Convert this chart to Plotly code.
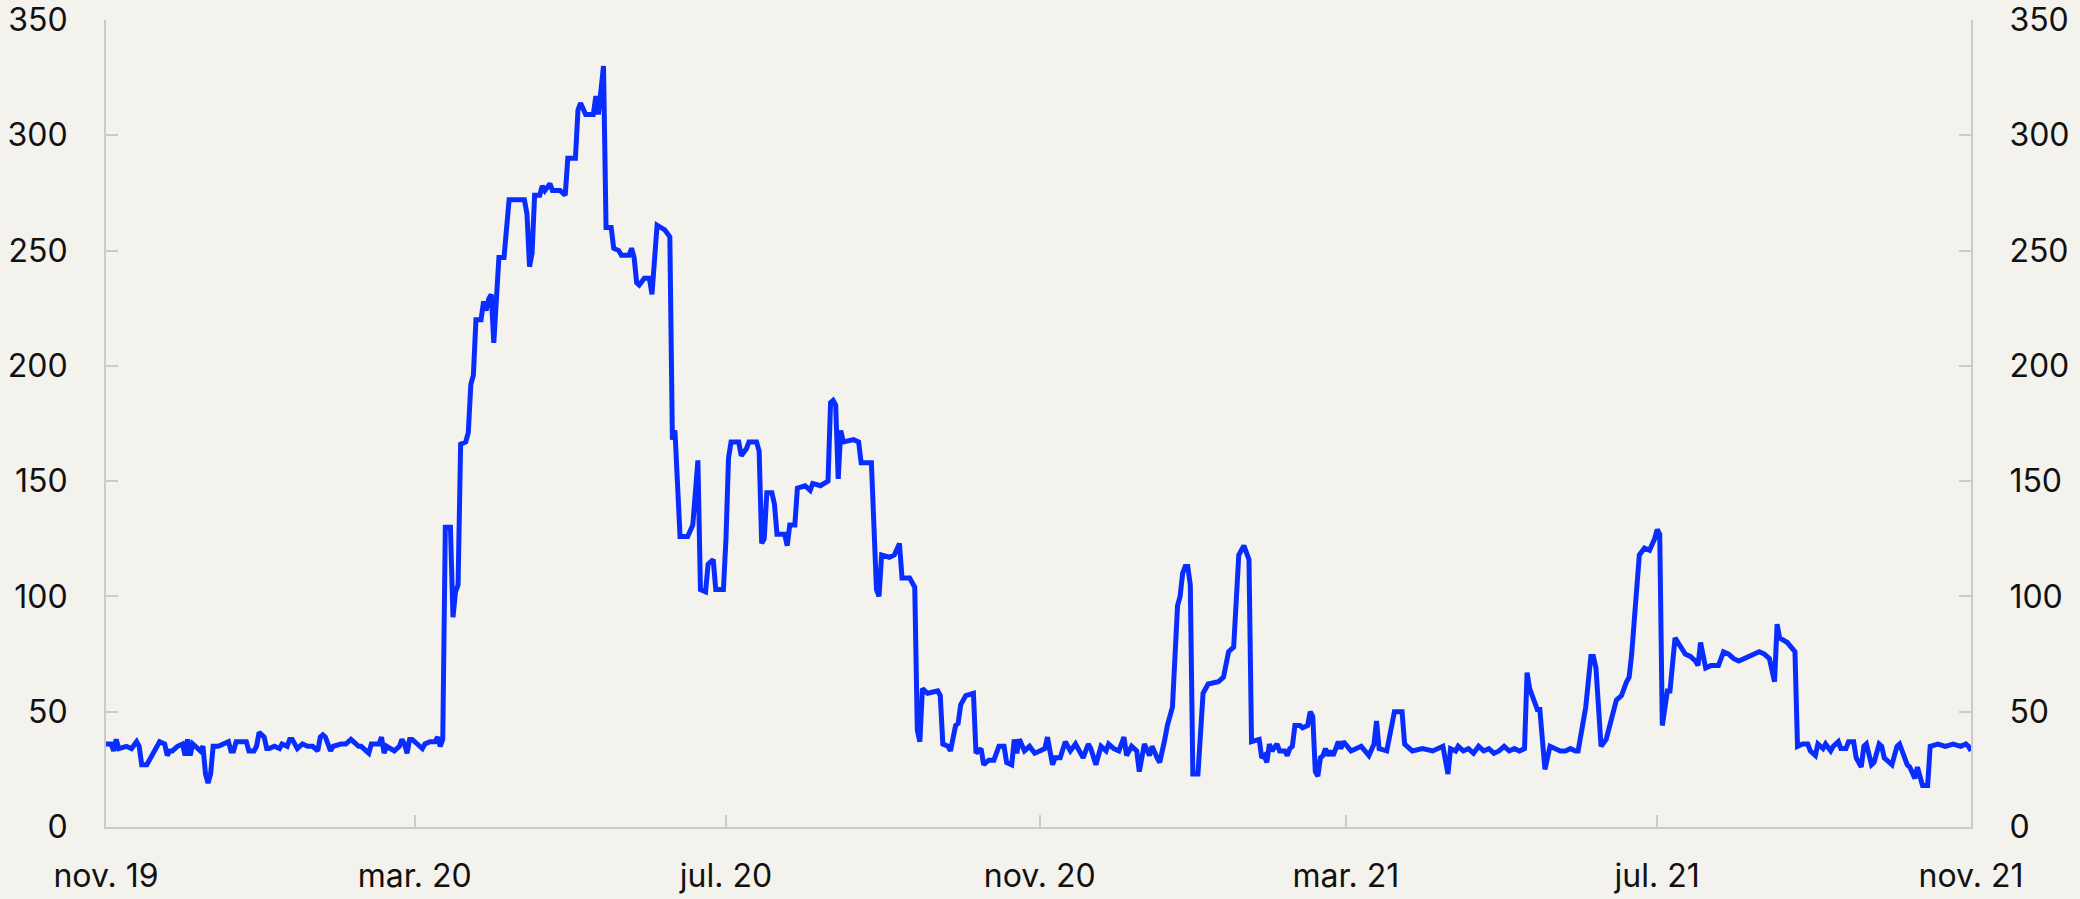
import pandas as pd
import plotly.graph_objects as go

"""
Daily series, nov. 2019 - nov. 2021
"""

start_date = '2019-11-01'

# days counted from start_date, and the value on that day
days = [0, 2, 3, 4, 5, 7, 8, 10, 12, 13, 14, 16, 18, 20, 21, 23, 24, 25, 26, 28,
        30, 31, 32, 33, 34, 37, 38, 39, 40, 41, 42, 44, 46, 48, 49, 50, 51, 53, 55, 56,
        58, 59, 60, 62, 63, 64, 66, 68, 69, 71, 72, 73, 75, 77, 79, 81, 83, 84, 85, 86,
        88, 89, 92, 94, 96, 97, 99, 100, 102, 103, 104, 105, 107, 108, 109, 110, 112, 113, 115, 116,
        117, 118, 119, 120, 122, 124, 125, 127, 129, 130, 131, 132,
        133, 135, 136, 137, 138, 139, 141, 142, 143, 144, 145, 147, 148, 149, 150, 151, 152, 154, 156, 158,
        164, 165, 166, 167, 168, 170, 171, 172, 174, 175, 178, 180, 181, 184, 185, 186, 188, 191, 192, 193,
        195, 196, 198, 199, 201, 202, 205, 206, 207, 208, 209, 211, 213, 214, 216, 218, 219, 221,
        222, 223, 225, 228, 230, 232, 233, 235, 236, 238, 239, 242, 243, 244, 245, 248, 249, 251, 252, 255,
        256, 257, 258, 259, 261, 262, 263, 266, 267, 268, 270, 271, 274, 276, 277, 280, 283, 284, 285, 286,
        287, 288, 289, 293, 295, 296, 300, 302, 303, 304, 307, 309, 311, 312, 315, 317, 318, 319, 320, 322,
        326, 327, 328, 330, 331, 333, 334, 335, 336, 337, 340, 341, 343, 344, 346, 348, 350, 352, 353, 355,
        356, 357, 358, 360, 362, 364, 366, 368, 369, 371, 372, 374, 376, 378, 380, 381, 383, 385, 386, 388,
        390, 392, 393, 395, 397, 399, 400, 402, 404, 405, 407, 409, 410, 412, 413, 415, 416, 418,
        420, 421, 422, 423, 424, 425, 426, 428, 430, 432, 436, 438, 440, 442, 443, 444, 446, 448,
        449, 451, 452, 453, 454, 455, 456, 457, 459, 460, 462, 463, 464, 465, 466, 468, 469, 471, 472, 473,
        474, 475, 476, 477, 478, 479, 480, 481, 483, 484, 485, 488, 492, 495, 497, 498, 499, 502, 505, 508,
        509, 512, 516, 520, 524, 526, 527, 529, 530, 532, 534, 536, 538, 540, 542, 544, 546, 548, 550, 552,
        554, 556, 557, 558, 561, 562, 564, 566, 568, 570, 572, 574, 576, 577, 580, 582, 583, 584, 586, 588,
        592, 594, 596, 597, 598, 601, 603, 605, 607, 608, 609, 610, 612, 613, 615, 619, 621, 623, 624, 625,
        627, 629, 632, 634, 636, 638, 640, 644, 648, 650, 652, 654, 655, 656, 659, 662,
        663, 665, 667, 668, 670, 671, 673, 674, 676, 677, 679, 680, 682, 683, 685, 686, 688, 689, 690, 692,
        693, 695, 696, 697, 699, 700, 702, 703, 705, 706, 707, 709, 710, 711, 712, 714, 715, 718, 721, 724,
        727, 729, 730, 731]

values = [36, 36, 33, 38, 34, 35, 35, 34, 37, 35, 27, 27, 31, 36, 37, 36, 31, 33, 33, 35,
          36, 31, 38, 31, 36, 33, 35, 23, 19, 23, 35, 35, 36, 37, 33, 33, 37, 37, 37, 33,
          33, 35, 41, 39, 34, 34, 35, 34, 36, 35, 38, 38, 34, 36, 35, 35, 33, 39, 40, 39,
          33, 35, 36, 36, 38, 37, 35, 35, 33, 32, 36, 36, 36, 39, 32, 35, 34, 33, 35, 38,
          36, 32, 38, 38, 36, 34, 36, 37, 37, 39, 35, 38,
          130, 130, 91, 102, 105, 166, 167, 171, 192, 196, 220, 220, 228, 224, 229, 231, 210, 247, 247, 272,
          272, 266, 243, 249, 274, 274, 278, 276, 279, 276, 276, 274, 290, 290, 311, 314, 309, 309, 317, 309,
          330, 260, 260, 251, 250, 248, 248, 251, 247, 236, 235, 238, 238, 231, 261, 260, 259, 256,
          168, 172, 126, 126, 131, 159, 103, 102, 114, 116, 103, 103, 125, 160, 167, 167, 161, 164, 167, 167,
          163, 123, 125, 145, 145, 140, 127, 127, 122, 131, 131, 147, 148, 146, 149, 148, 150, 184, 185, 183,
          151, 172, 167, 168, 167, 158, 158, 103, 100, 118, 117, 118, 123, 108, 108, 104, 42, 37, 60, 58,
          59, 57, 36, 35, 33, 44, 45, 53, 55, 57, 58, 32, 34, 27, 29, 29, 35, 35, 28, 27,
          38, 32, 38, 33, 35, 32, 33, 34, 39, 27, 30, 30, 37, 33, 36, 34, 30, 36, 34, 27,
          35, 33, 36, 34, 33, 39, 31, 35, 33, 24, 36, 31, 35, 30, 28, 38, 44, 52,
          96, 100, 110, 113, 113, 105, 23, 23, 58, 62, 63, 65, 76, 78, 97, 118, 122, 116,
          37, 38, 38, 30, 31, 28, 36, 33, 36, 33, 33, 31, 34, 35, 44, 44, 43, 44, 50, 48,
          24, 22, 30, 31, 34, 31, 33, 31, 37, 34, 37, 33, 35, 31, 36, 46, 34, 33, 50, 50,
          36, 33, 34, 33, 35, 23, 34, 33, 35, 33, 34, 32, 35, 33, 34, 32, 33, 35, 33, 34,
          33, 34, 67, 60, 51, 51, 25, 35, 34, 33, 33, 34, 33, 33, 52, 74, 74, 69, 35, 38,
          55, 57, 63, 65, 75, 118, 121, 120, 125, 129, 127, 44, 59, 59, 82, 75, 74, 72, 70, 80,
          69, 70, 70, 76, 75, 73, 72, 74, 76, 75, 73, 63, 88, 82, 80, 76,
          35, 36, 36, 33, 31, 36, 34, 36, 33, 35, 37, 34, 34, 37, 37, 30, 26, 35, 36, 27,
          28, 36, 35, 30, 28, 27, 35, 36, 30, 27, 26, 21, 26, 21, 18, 18, 35, 36, 35, 36,
          35, 36, 35, 33]

# axis ticks
tick_dates = ['2019-11-01', '2020-03-01', '2020-07-01', '2020-11-01',
              '2021-03-01', '2021-07-01', '2021-11-01']
tick_labels = ['nov. 19', 'mar. 20', 'jul. 20', 'nov. 20',
               'mar. 21', 'jul. 21', 'nov. 21']
y_ticks = [0, 50, 100, 150, 200, 250, 300, 350]

BG = '#f4f2ec'
AXIS = '#c9cad2'
LINE = '#0a2dff'
FONT = {'family': 'Inter, Roboto, sans-serif', 'size': 32, 'color': '#111111'}


def plot_series():
    dates = pd.Timestamp(start_date) + pd.to_timedelta(days, unit='D')
    df = pd.DataFrame({'date': dates, 'value': values})

    fig = go.Figure()
    fig.add_trace(go.Scatter(x=df['date'], y=df['value'], mode='lines',
                             line={'color': LINE, 'width': 5},
                             hovertemplate='%{x|%d.%m.%Y}: %{y}<extra></extra>'))
    # invisible copy so the right axis is drawn
    fig.add_trace(go.Scatter(x=df['date'], y=df['value'], mode='lines', yaxis='y2',
                             line={'color': 'rgba(0,0,0,0)', 'width': 0},
                             hoverinfo='skip'))

    y_common = {
        'range': [0, 350],
        'tickvals': y_ticks,
        'showgrid': False,
        'zeroline': False,
        'showline': True,
        'linecolor': AXIS,
        'linewidth': 2,
        'ticks': 'inside',
        'ticklen': 12,
        'tickwidth': 2,
        'tickcolor': AXIS,
        'tickfont': FONT,
        'ticklabelstandoff': 30,
        'automargin': False,
    }

    fig.update_layout(
        width=2080,
        height=899,
        showlegend=False,
        paper_bgcolor=BG,
        plot_bgcolor=BG,
        font=FONT,
        margin={'l': 106, 'r': 109, 't': 20, 'b': 72, 'pad': 0, 'autoexpand': False},
        xaxis={
            'type': 'date',
            'range': [tick_dates[0], tick_dates[-1]],
            'tickvals': tick_dates,
            'ticktext': tick_labels,
            'showgrid': False,
            'zeroline': False,
            'showline': True,
            'linecolor': AXIS,
            'linewidth': 2,
            'ticks': 'inside',
            'ticklen': 12,
            'tickwidth': 2,
            'tickcolor': AXIS,
            'tickfont': FONT,
            'ticklabelstandoff': 20,
            'automargin': False,
        },
        yaxis=dict(y_common, side='left'),
        yaxis2=dict(y_common, side='right', overlaying='y'),
    )
    return fig


def main():
    fig = plot_series()
    # drop the default page margin so the 2080x899 figure fills the window exactly
    fig.write_html('out.html',
                   config={'displayModeBar': False},
                   post_script="document.body.style.margin='0';"
                               "document.body.style.overflow='hidden';"
                               "document.body.style.background='" + BG + "';")


if __name__ == '__main__':
    main()
